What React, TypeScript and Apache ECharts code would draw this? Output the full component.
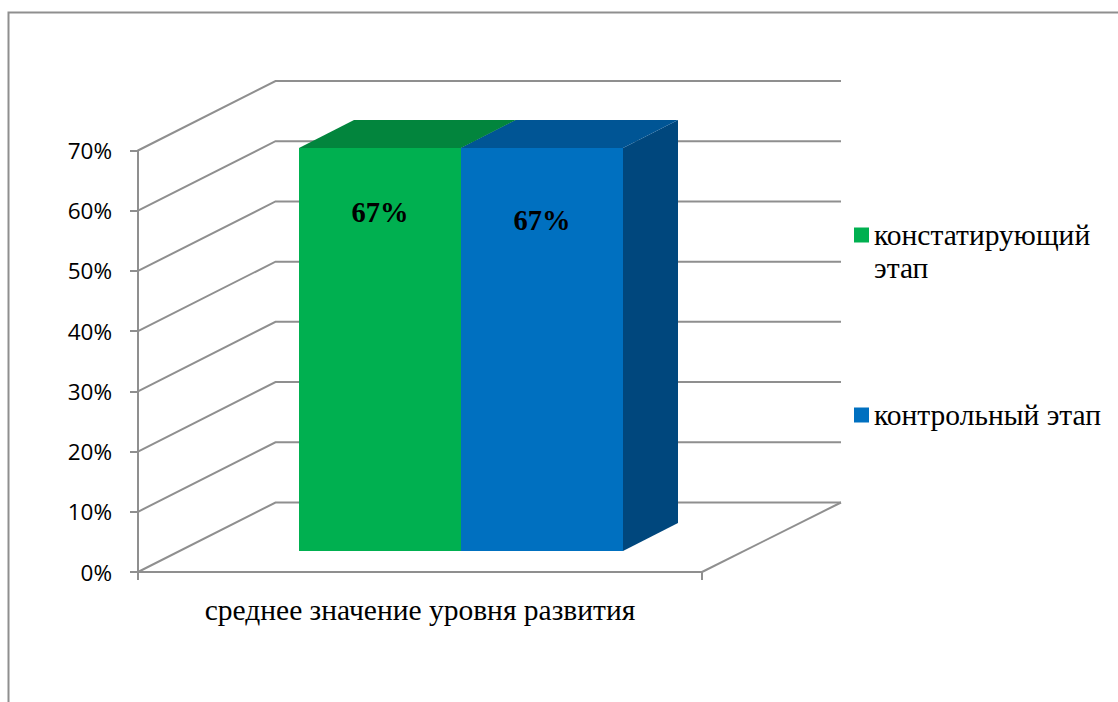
import React, { useEffect, useRef } from "react";
import * as echarts from "echarts";

const categories = ["среднее значение уровня развития"];
const seriesNames = ["констатирующий этап", "контрольный этап"];
const stageOne = [67];
const stageTwo = [67];
const yTicks = [0, 10, 20, 30, 40, 50, 60, 70];

const LINE = "#8f8f8f";
const LW = 2;
const SERIF = '"Liberation Serif", serif';
const WALL_DX = 137.5;
const WALL_DX_RIGHT = 139;
const WALL_DY = -69.5;
const BAR_FRONT = 0.3;
const BAR_BACK = 0.7;
const BAR_FRAC = 0.2868;
const PALETTE = [
  { front: "#00b050", top: "#02853d", side: "#006a32", labelDy: 64 },
  { front: "#0070c0", top: "#005595", side: "#00477d", labelDy: 72 },
];

function renderWall(_: any, api: any) {
  const v = api.value(1);
  const p = api.coord([0, v]);
  const band = api.size([1, 0])[0];
  const left = p[0] - band / 2;
  const right = p[0] + band / 2;
  const lineStyle = { stroke: LINE, lineWidth: LW, fill: "none" };
  const children: any[] = [
    {
      type: "polyline",
      shape: { points: [[left, p[1]], [left + WALL_DX, p[1] + WALL_DY], [right + WALL_DX_RIGHT, p[1] + WALL_DY]] },
      style: lineStyle,
    },
  ];
  if (v === yTicks[0]) {
    const topY = api.coord([0, yTicks[yTicks.length - 1]])[1];
    children.push(
      {
        type: "line",
        shape: { x1: right, y1: p[1], x2: right + WALL_DX_RIGHT, y2: p[1] + WALL_DY },
        style: lineStyle,
      },
      {
        type: "line",
        shape: { x1: left, y1: p[1], x2: left, y2: topY },
        style: lineStyle,
      }
    );
  }
  return { type: "group", children };
}

function renderBar(index: number) {
  return (_: any, api: any) => {
    const v = api.value(1);
    const top = api.coord([0, v]);
    const base = api.coord([0, 0]);
    const band = api.size([1, 0])[0];
    const w = band * BAR_FRAC;
    const ox = WALL_DX * BAR_FRONT;
    const oy = WALL_DY * BAR_FRONT;
    const bx = Math.round(WALL_DX * (BAR_BACK - BAR_FRONT));
    const by = Math.round(WALL_DY * (BAR_BACK - BAR_FRONT));
    const x0 = Math.round(top[0] - w + index * w + ox);
    const x1 = Math.round(top[0] - w + (index + 1) * w + ox);
    const yT = Math.round(top[1] + oy);
    const yB = Math.round(base[1] + oy);
    const c = PALETTE[index];
    return {
      type: "group",
      children: [
        { type: "polygon", shape: { points: [[x1, yT], [x1 + bx, yT + by], [x1 + bx, yB + by], [x1, yB]] }, style: { fill: c.side } },
        { type: "polygon", shape: { points: [[x0, yT], [x1, yT], [x1 + bx, yT + by], [x0 + bx, yT + by]] }, style: { fill: c.top } },
        { type: "rect", shape: { x: x0, y: yT, width: x1 - x0, height: yB - yT }, style: { fill: c.front } },
        {
          type: "text",
          style: {
            text: `${v}%`,
            x: (x0 + x1) / 2,
            y: yT + c.labelDy,
            textAlign: "center",
            textVerticalAlign: "middle",
            fontFamily: SERIF,
            fontWeight: "bold",
            fontSize: 28.5,
            fill: "#000",
          },
        },
      ],
    };
  };
}

export default function App() {
  const ref = useRef<HTMLDivElement>(null);
  useEffect(() => {
    if (!ref.current) return;
    const chart = echarts.init(ref.current, undefined, { renderer: "svg" });
    const legendBase = {
      orient: "vertical" as const,
      left: 854,
      itemWidth: 15,
      itemHeight: 15,
      itemGap: 0,
      icon: "rect",
      selectedMode: false,
      padding: 0,
      textStyle: { fontFamily: SERIF, fontSize: 29.5, color: "#000", lineHeight: 33, padding: [3, 0, 0, 0] },
    };
    const axisLine = { show: true, onZero: false, lineStyle: { color: LINE, width: LW } };
    const axisTick = { show: true, length: 8, inside: false, lineStyle: { color: LINE, width: LW } };
    chart.setOption({
      animation: false,
      backgroundColor: "#fff",
      grid: { left: 138, right: 416, top: 150.5, bottom: 130 },
      xAxis: {
        type: "category",
        data: categories,
        axisLine,
        axisTick: { ...axisTick, interval: 0, alignWithLabel: false },
        axisLabel: { fontFamily: SERIF, fontSize: 29.5, color: "#000", margin: 23, interval: 0 },
        splitLine: { show: false },
      },
      yAxis: {
        type: "value",
        min: 0,
        max: 70,
        interval: 10,
        axisLine,
        axisTick,
        axisLabel: { formatter: "{value}%", fontFamily: '"Open Sans", sans-serif', fontSize: 22.5, color: "#000", margin: 26 },
        splitLine: { show: false },
      },
      legend: [
        {
          ...legendBase,
          top: 184,
          data: [seriesNames[0]],
          formatter: (name: string) => "\n" + name.replace(" ", "\n"),
        },
        { ...legendBase, top: 397, data: [seriesNames[1]] },
      ],
      graphic: [
        {
          type: "polyline",
          silent: true,
          shape: { points: [[8.5, 702], [8.5, 12.5], [1118, 12.5]] },
          style: { stroke: LINE, lineWidth: LW, fill: "none" },
        },
      ],
      series: [
        {
          type: "custom",
          name: "wall",
          clip: false,
          silent: true,
          z: 1,
          data: yTicks.map((t) => [0, t]),
          encode: { x: 0, y: 1 },
          renderItem: renderWall,
        },
        {
          type: "custom",
          name: seriesNames[0],
          clip: false,
          z: 2,
          itemStyle: { color: PALETTE[0].front },
          data: stageOne.map((v, i) => [i, v]),
          encode: { x: 0, y: 1 },
          renderItem: renderBar(0),
        },
        {
          type: "custom",
          name: seriesNames[1],
          clip: false,
          z: 3,
          itemStyle: { color: PALETTE[1].front },
          data: stageTwo.map((v, i) => [i, v]),
          encode: { x: 0, y: 1 },
          renderItem: renderBar(1),
        },
      ],
    });
    return () => chart.dispose();
  }, []);
  return <div ref={ref} style={{ position: "absolute", left: 0, top: 0, width: 1118, height: 702 }} />;
}
